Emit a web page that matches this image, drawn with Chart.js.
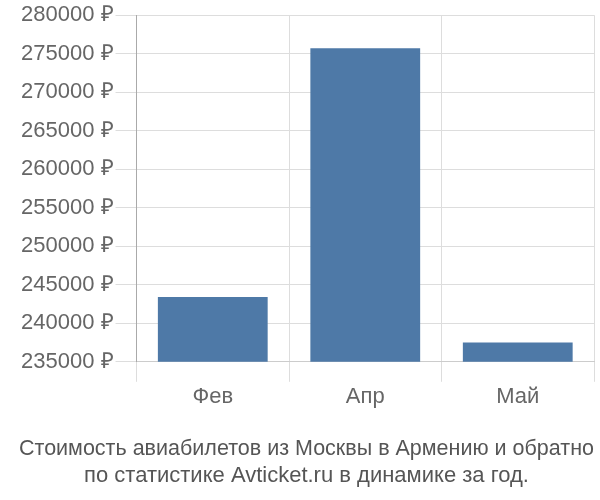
<!DOCTYPE html>
<html lang="ru">
<head>
    <meta charset="UTF-8">
    <title>Стоимость авиабилетов</title>
    <script src="https://cdn.jsdelivr.net/npm/chart.js"></script>
    <style>
        body { margin: 0; background: #fff; }
        #wrap { width: 600px; height: 500px; }
    </style>
</head>
<body>
<div id="wrap"><canvas id="priceChart" width="600" height="500"></canvas></div>
<script>
const months = ['Фев', 'Апр', 'Май'];
const prices = [243400, 275700, 237500];
const titleLines = [
    'Стоимость авиабилетов из Москвы в Армению и обратно',
    'по статистике Avticket.ru в динамике за год.'
];

const ctx = document.getElementById('priceChart').getContext('2d');
new Chart(ctx, {
    type: 'bar',
    data: {
        labels: months,
        datasets: [{
            data: prices,
            backgroundColor: '#4e79a7',
            borderWidth: 0
        }]
    },
    options: {
        responsive: false,
        animation: false,
        devicePixelRatio: 1,
        layout: { padding: { left: 19, right: 6, top: 5, bottom: 7 } },
        plugins: {
            legend: { display: false },
            tooltip: { enabled: false },
            title: {
                display: true,
                position: 'bottom',
                text: titleLines,
                color: '#555',
                font: { family: 'Liberation Sans', size: 22, weight: 'normal' },
                padding: { top: 24, bottom: 4 },
                lineHeight: 1.1
            }
        },
        scales: {
            x: {
                grid: { color: '#ddd', tickLength: 20, offset: true },
                border: { color: '#ccc' },
                ticks: { color: '#666', font: { family: 'Liberation Sans', size: 22 }, padding: 2 }
            },
            y: {
                min: 235000,
                max: 280000,
                grid: { color: '#ddd', tickLength: 21 },
                border: { color: '#aaa' },
                ticks: {
                    stepSize: 5000,
                    color: '#666',
                    padding: 2,
                    font: { family: 'Liberation Sans', size: 22 },
                    callback: v => v + ' ₽'
                }
            }
        }
    }
});
</script>
</body>
</html>
